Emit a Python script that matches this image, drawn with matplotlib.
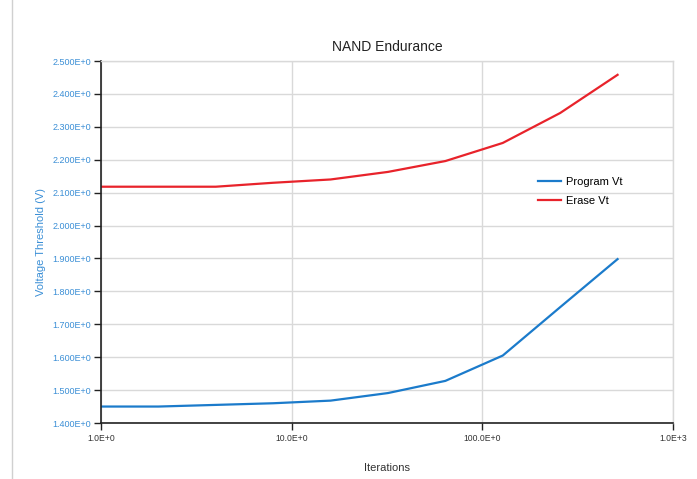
import matplotlib
matplotlib.use("Agg")
import matplotlib.pyplot as plt
from matplotlib.ticker import FixedLocator, NullLocator, FuncFormatter
from matplotlib.lines import Line2D

plt.rcParams['font.family'] = ['Liberation Sans', 'DejaVu Sans']

# Endurance test data
iterations = [1, 2, 4, 8, 16, 32, 64, 128, 256, 512]
program_vt = [1.450, 1.450, 1.455, 1.460, 1.468, 1.491, 1.528, 1.605, 1.752, 1.898]
erase_vt = [2.118, 2.118, 2.118, 2.130, 2.140, 2.163, 2.196, 2.251, 2.342, 2.458]

x_ticks = [1, 10, 100, 1000]
x_tick_labels = ["1.0E+0", "10.0E+0", "100.0E+0", "1.0E+3"]
y_ticks = [1.4, 1.5, 1.6, 1.7, 1.8, 1.9, 2.0, 2.1, 2.2, 2.3, 2.4, 2.5]

blue = "#1b7bcb"
red = "#e8232b"
tick_blue = "#3b8fd6"

fig = plt.figure(figsize=(6.97, 4.79), dpi=100)
ax = fig.add_axes([101 / 697, 1 - 423 / 479, (673 - 101) / 697, (423 - 61) / 479])

ax.plot(iterations, program_vt, color=blue, lw=1.6, label="Program Vt", solid_joinstyle="round")
ax.plot(iterations, erase_vt, color=red, lw=1.6, label="Erase Vt", solid_joinstyle="round")

ax.set_xscale("log")
ax.set_xlim(1, 1000)
ax.set_ylim(1.4, 2.5)
ax.xaxis.set_major_locator(FixedLocator(x_ticks))
ax.xaxis.set_minor_locator(NullLocator())
ax.set_xticklabels(x_tick_labels)
ax.set_yticks(y_ticks)
ax.yaxis.set_major_formatter(FuncFormatter(lambda v, p: f"{v:.3f}E+0"))

ax.grid(True, color="#d9d9d9", lw=1.0)
ax.set_axisbelow(True)
for s in ["top", "right"]:
    ax.spines[s].set_color("#d9d9d9")
    ax.spines[s].set_linewidth(1.0)
for s in ["left", "bottom"]:
    ax.spines[s].set_color("#222222")
    ax.spines[s].set_linewidth(1.2)

ax.tick_params(axis="y", direction="out", length=5, width=1.0, color="#222222",
               labelsize=6.5, labelcolor=tick_blue, pad=2)
ax.tick_params(axis="x", direction="out", length=5, width=1.0, color="#222222",
               labelsize=6.2, labelcolor="#333333", pad=3)

ax.set_title("NAND Endurance", fontsize=10, color="#222222", pad=7)
ax.set_xlabel("Iterations", fontsize=8, color="#333333", labelpad=14)
ax.set_ylabel("Voltage Threshold (V)", fontsize=8, color=tick_blue, labelpad=5)

ax.legend(loc="upper left", bbox_to_anchor=(0.757, 0.692), frameon=False,
          fontsize=8, handlelength=2.0, handletextpad=0.45, labelspacing=0.8,
          borderaxespad=0)

# left page border
fig.add_artist(Line2D([12 / 697, 12 / 697], [0, 1], color="#d0d0d0", lw=1.0,
                      transform=fig.transFigure))

fig.savefig("out.png", dpi=100)
